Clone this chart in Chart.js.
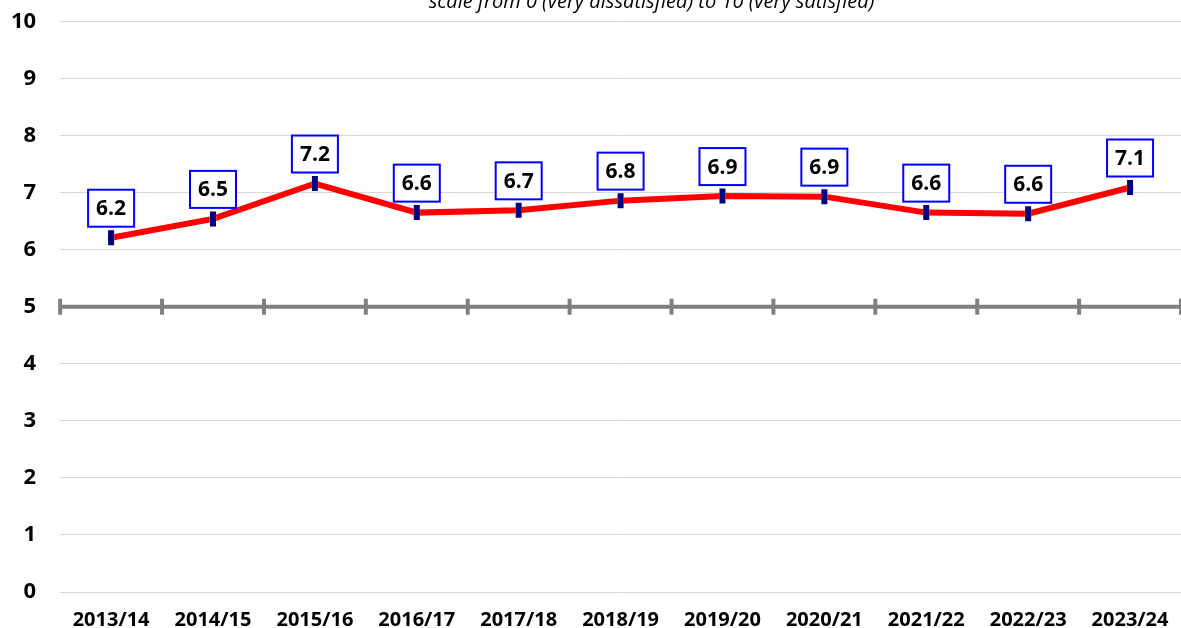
<!DOCTYPE html>
<html>
<head>
<meta charset="utf-8">
<script src="https://cdn.jsdelivr.net/npm/chart.js@4/dist/chart.umd.min.js"></script>
<style>
  html, body { margin: 0; padding: 0; background: #fff; overflow: hidden; }
  #wrap { width: 1181px; height: 628px; }
</style>
</head>
<body>
<div id="wrap"><canvas id="chart"></canvas></div>
<script>
const years = ['2013/14', '2014/15', '2015/16', '2016/17', '2017/18', '2018/19', '2019/20', '2020/21', '2021/22', '2022/23', '2023/24'];
const scores = [6.21, 6.54, 7.16, 6.65, 6.69, 6.86, 6.94, 6.93, 6.65, 6.63, 7.09];
const scoreLabels = ['6.2', '6.5', '7.2', '6.6', '6.7', '6.8', '6.9', '6.9', '6.6', '6.6', '7.1'];
const subtitle = 'scale from 0 (very dissatisfied) to 10 (very satisfied)';
const midValue = 5;

// thick grey line at 5 with tick marks at category boundaries
const midLine = {
    id: 'midLine',
    beforeDatasetsDraw(chart) {
        const { ctx, chartArea, scales } = chart;
        const y = scales.y.getPixelForValue(midValue);
        const half = (scales.x.getPixelForValue(1) - scales.x.getPixelForValue(0)) / 2;
        ctx.save();
        ctx.strokeStyle = '#808080';
        ctx.lineWidth = 4;
        ctx.beginPath();
        ctx.moveTo(chartArea.left - 2, y);
        ctx.lineTo(chartArea.right, y);
        for (let i = 0; i <= years.length; i++) {
            const x = scales.x.getPixelForValue(i) - half;
            ctx.moveTo(x, y - 8);
            ctx.lineTo(x, y + 8);
        }
        ctx.stroke();
        ctx.restore();
    }
};

// boxed value labels above each point
const boxLabels = {
    id: 'boxLabels',
    afterDatasetsDraw(chart) {
        const { ctx } = chart;
        const meta = chart.getDatasetMeta(0);
        ctx.save();
        ctx.font = 'bold 21px "Open Sans"';
        ctx.textAlign = 'center';
        ctx.textBaseline = 'middle';
        meta.data.forEach((pt, i) => {
            const w = 46, h = 37;
            const left = pt.x - w / 2;
            const top = pt.y - 11 - h;
            ctx.fillStyle = '#ffffff';
            ctx.fillRect(left, top, w, h);
            ctx.strokeStyle = '#0000ff';
            ctx.lineWidth = 2;
            ctx.strokeRect(left, top, w, h);
            ctx.fillStyle = '#000000';
            ctx.fillText(scoreLabels[i], pt.x, top + h / 2 + 1);
        });
        ctx.restore();
    }
};

// subtitle, partly cut off at the top
const topText = {
    id: 'topText',
    afterDraw(chart) {
        const { ctx, chartArea } = chart;
        ctx.save();
        ctx.font = 'italic 20px "Open Sans"';
        ctx.fillStyle = '#000000';
        ctx.textAlign = 'center';
        ctx.textBaseline = 'alphabetic';
        ctx.fillText(subtitle, (chartArea.left + chartArea.right) / 2 + 31, 8);
        ctx.restore();
    }
};

new Chart(document.getElementById('chart'), {
    type: 'line',
    data: {
        labels: years,
        datasets: [{
            data: scores,
            borderColor: '#ff0000',
            borderWidth: 6,
            tension: 0,
            pointStyle: 'rect',
            pointRadius: 4,
            pointBackgroundColor: '#f79646',
            pointBorderColor: '#f79646',
            pointBorderWidth: 1,
            order: 2
        }, {
            data: scores,
            showLine: false,
            pointStyle: 'line',
            pointRotation: 90,
            pointRadius: 7.5,
            pointBorderColor: '#000080',
            pointBorderWidth: 6,
            order: 1
        }]
    },
    options: {
        responsive: true,
        maintainAspectRatio: false,
        animation: false,
        layout: { autoPadding: false, padding: { top: 21.5, right: 0, left: 11, bottom: -4 } },
        plugins: {
            legend: { display: false },
            tooltip: { enabled: false }
        },
        scales: {
            x: {
                offset: true,
                afterFit(scale) {
                    scale.paddingLeft = 0;
                    scale.paddingRight = 0;
                },
                grid: {
                    drawOnChartArea: false,
                    drawTicks: true,
                    tickLength: 16,
                    tickColor: 'rgba(0,0,0,0)'
                },
                border: { display: false },
                ticks: {
                    color: '#000',
                    padding: 0,
                    font: { family: '"Open Sans"', size: 20, weight: 'bold' }
                }
            },
            y: {
                min: 0,
                max: 10,
                grid: {
                    color: ctx => ctx.tick && ctx.tick.value === midValue ? 'rgba(0,0,0,0)' : '#d9d9d9',
                    lineWidth: 1,
                    drawTicks: true,
                    tickLength: 24,
                    tickColor: 'rgba(0,0,0,0)'
                },
                border: { display: false },
                ticks: {
                    stepSize: 1,
                    color: '#000',
                    padding: 0,
                    font: { family: '"Open Sans"', size: 22, weight: 'bold' }
                }
            }
        }
    },
    plugins: [midLine, boxLabels, topText]
});
</script>
</body>
</html>
